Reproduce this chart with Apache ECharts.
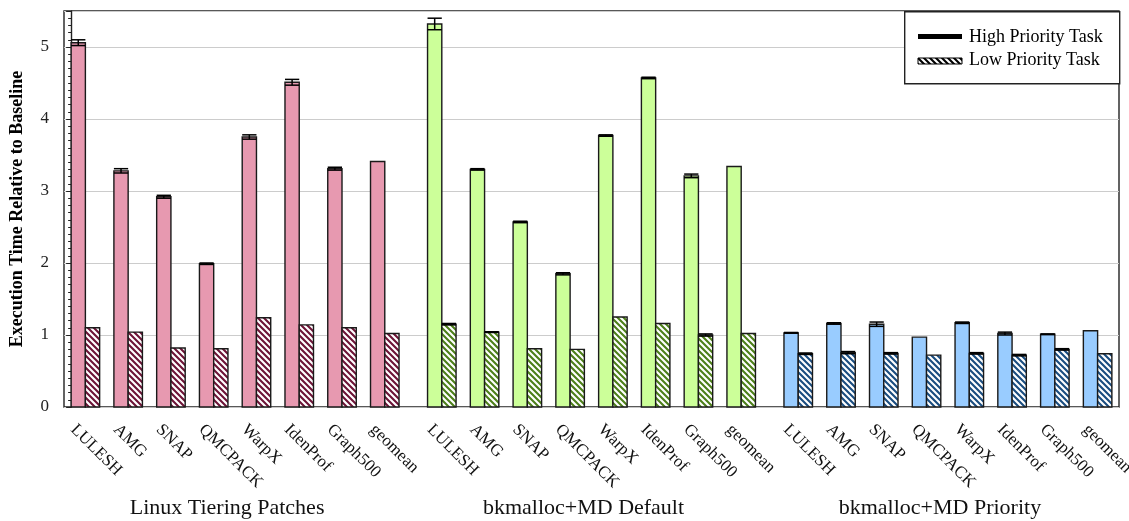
<!DOCTYPE html>
<html><head><meta charset="utf-8">
<script src="https://cdn.jsdelivr.net/npm/echarts@6/dist/echarts.min.js"></script>
<style>html,body{margin:0;padding:0;background:#fff}#c{width:1129px;height:521px}</style>
</head><body><div id="c"></div>
<script>
// ---- data ----
const categories = ['LULESH','AMG','SNAP','QMCPACK','WarpX','IdenProf','Graph500','geomean'];
const groups = ['Linux Tiering Patches','bkmalloc+MD Default','bkmalloc+MD Priority'];
const legendNames = ['High Priority Task','Low Priority Task'];
const yTicks = [0,1,2,3,4,5];

const highLinux    = [5.06, 3.28, 2.92, 1.99, 3.75, 4.51, 3.31, 3.41];
const highLinuxErr = [0.04, 0.03, 0.02, 0.01, 0.03, 0.04, 0.02, 0.00];
const lowLinux     = [1.10, 1.04, 0.82, 0.81, 1.24, 1.14, 1.10, 1.02];
const lowLinuxErr  = [0.00, 0.00, 0.00, 0.00, 0.00, 0.00, 0.00, 0.00];

const highDefault    = [5.32, 3.30, 2.57, 1.85, 3.77, 4.57, 3.21, 3.34];
const highDefaultErr = [0.08, 0.01, 0.01, 0.015, 0.01, 0.01, 0.025, 0.00];
const lowDefault     = [1.15, 1.04, 0.81, 0.80, 1.25, 1.16, 1.00, 1.02];
const lowDefaultErr  = [0.01, 0.005, 0.00, 0.00, 0.00, 0.00, 0.015, 0.00];

const highPriority    = [1.03, 1.16, 1.15, 0.97, 1.17, 1.02, 1.01, 1.06];
const highPriorityErr = [0.005, 0.01, 0.03, 0.00, 0.01, 0.02, 0.005, 0.00];
const lowPriority     = [0.74, 0.755, 0.745, 0.72, 0.745, 0.72, 0.80, 0.74];
const lowPriorityErr  = [0.01, 0.015, 0.01, 0.00, 0.01, 0.01, 0.01, 0.00];

const highSets = [highLinux, highDefault, highPriority];
const highErrs = [highLinuxErr, highDefaultErr, highPriorityErr];
const lowSets  = [lowLinux, lowDefault, lowPriority];
const lowErrs  = [lowLinuxErr, lowDefaultErr, lowPriorityErr];

// ---- styles ----
const solidColors = ['#e799b0', '#ccff99', '#99ccff'];
const hatchColors = ['#6e1437', '#4d801a', '#1a4d80'];
const FONT = '"Liberation Serif", "Times New Roman", serif';

function hatch(color, lw) {
  const s = 6;
  const c = document.createElement('canvas');
  c.width = s; c.height = s;
  const x = c.getContext('2d');
  x.fillStyle = '#fff'; x.fillRect(0, 0, s, s);
  x.strokeStyle = color; x.lineWidth = lw;
  x.beginPath();
  for (const k of [-s, 0, s]) { x.moveTo(k - 1, -1); x.lineTo(k + s + 1, s + 1); }
  x.stroke();
  return c;
}
const patterns = hatchColors.map(c => hatch(c, 2.1));
const legendPattern = hatch('#000', 2.1);

// ---- layout (slot units) ----
const GROUP_SLOTS = 25, CLUSTER_SLOTS = 3;
const barData = [];
const labelData = [];
const groupData = [];
groups.forEach((gname, g) => {
  categories.forEach((cat, i) => {
    const start = g * GROUP_SLOTS + i * CLUSTER_SLOTS;
    barData.push([start + 0.5, highSets[g][i], highErrs[g][i], g, 0]);
    barData.push([start + 1.5, lowSets[g][i], lowErrs[g][i], g, 1]);
    labelData.push([start, i]);
  });
  groupData.push([g * GROUP_SLOTS + 11.5, g]);
});

function renderBar(params, api) {
  const u = api.value(0), v = api.value(1), e = api.value(2), g = api.value(3), kind = api.value(4);
  const p0 = api.coord([u - 0.5, v]);
  const p1 = api.coord([u + 0.5, 0]);
  const w = p1[0] - p0[0];
  const children = [{
    type: 'rect',
    shape: { x: p0[0], y: p0[1], width: w, height: p1[1] - p0[1] },
    style: {
      fill: kind === 0 ? solidColors[g] : { image: patterns[g], repeat: 'repeat' },
      stroke: '#1a1a1a', lineWidth: 1.4
    }
  }];
  if (e > 0) {
    const t = api.coord([u, v + e]), b = api.coord([u, v - e]);
    const st = { stroke: '#000', lineWidth: 1.5 };
    children.push({ type: 'line', shape: { x1: t[0], y1: t[1], x2: b[0], y2: b[1] }, style: st });
    children.push({ type: 'line', shape: { x1: p0[0], y1: t[1], x2: p0[0] + w, y2: t[1] }, style: st });
    children.push({ type: 'line', shape: { x1: p0[0], y1: b[1], x2: p0[0] + w, y2: b[1] }, style: st });
  }
  return { type: 'group', children };
}

function renderLabel(params, api) {
  const u = api.value(0), i = api.value(1);
  const p = api.coord([u, 0]);
  return {
    type: 'text', x: p[0] + 2, y: p[1] + 20, rotation: -Math.PI / 4,
    style: { text: categories[i], fontSize: 17, fontFamily: FONT, fill: '#111', align: 'left', verticalAlign: 'middle' }
  };
}

function renderGroup(params, api) {
  const u = api.value(0), g = api.value(1);
  const p = api.coord([u, 0]);
  return {
    type: 'text', x: p[0] - 8, y: 508,
    style: { text: groups[g], fontSize: 22, fontFamily: FONT, fill: '#111', align: 'center', verticalAlign: 'middle' }
  };
}

const chart = echarts.init(document.getElementById('c'));
chart.setOption({
  animation: false,
  backgroundColor: '#fff',
  grid: { left: 62, right: 10, top: 11, bottom: 114, show: true, borderColor: '#222', borderWidth: 1.4, backgroundColor: 'transparent' },
  xAxis: { type: 'value', min: -0.5, max: 73.5, show: false },
  yAxis: {
    type: 'value', min: 0, max: 5.5, interval: 1,
    name: 'Execution Time Relative to Baseline', nameLocation: 'middle', nameGap: 38,
    nameTextStyle: { fontFamily: FONT, fontWeight: 'bold', fontSize: 18, color: '#000' },
    axisLine: { show: true, lineStyle: { color: '#222', width: 1.4 } },
    axisTick: { show: true, inside: false, length: 5, lineStyle: { color: '#222' } },
    minorTick: { show: true, splitNumber: 10, length: 3, lineStyle: { color: '#222' } },
    splitLine: { show: true, lineStyle: { color: '#cccccc', width: 1.2 } },
    axisLabel: {
      fontFamily: FONT, fontSize: 17, color: '#222', margin: 15,
      formatter: v => (yTicks.indexOf(v) >= 0 ? String(v) : '')
    }
  },
  series: [
    { type: 'custom', renderItem: renderBar, data: barData, z: 3 },
    { type: 'custom', renderItem: renderLabel, data: labelData, silent: true },
    { type: 'custom', renderItem: renderGroup, data: groupData, silent: true }
  ],
  graphic: [
    { type: 'rect', left: 904, top: 11, shape: { width: 215, height: 72 }, style: { fill: '#fff', stroke: '#222', lineWidth: 1.4 }, z: 10 },
    { type: 'rect', x: 918, y: 34, shape: { width: 44, height: 5 }, style: { fill: '#000' }, z: 11 },
    { type: 'text', x: 969, y: 37, style: { text: legendNames[0], fontFamily: FONT, fontSize: 18, fill: '#000', verticalAlign: 'middle' }, z: 11 },
    { type: 'rect', x: 918, y: 58, shape: { width: 44, height: 6 }, style: { fill: { image: legendPattern, repeat: 'repeat' }, stroke: '#000', lineWidth: 1 }, z: 11 },
    { type: 'text', x: 969, y: 60, style: { text: legendNames[1], fontFamily: FONT, fontSize: 18, fill: '#000', verticalAlign: 'middle' }, z: 11 }
  ]
});
</script>
</body></html>
